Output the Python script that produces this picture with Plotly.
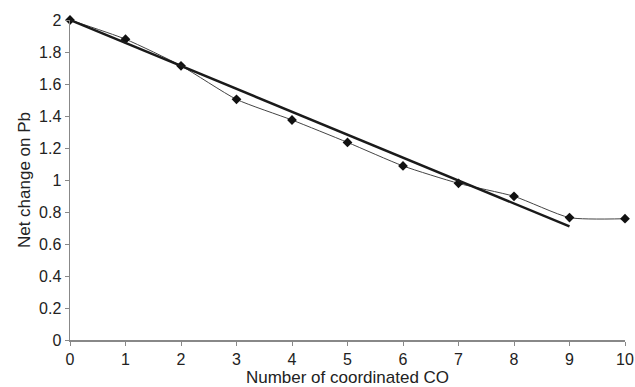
import plotly.graph_objects as go

x_vals = [0, 1, 2, 3, 4, 5, 6, 7, 8, 9, 10]
net_change = [2.0, 1.88, 1.714, 1.504, 1.375, 1.235, 1.088, 0.979, 0.898, 0.765, 0.758]
trend_x = [0, 9]
trend_y = [2.0, 0.71]

font_family = "Liberation Sans, Arial, sans-serif"

fig = go.Figure()
fig.add_trace(go.Scatter(
    x=x_vals, y=net_change, mode="lines+markers",
    line=dict(color="#444444", width=1, shape="spline", smoothing=0.6),
    marker=dict(symbol="diamond", size=7.5, color="#111111"),
    cliponaxis=False, showlegend=False,
))
fig.add_trace(go.Scatter(
    x=trend_x, y=trend_y, mode="lines",
    line=dict(color="#1a1a1a", width=2.5),
    cliponaxis=False, showlegend=False,
))

fig.update_layout(
    width=635, height=387,
    margin=dict(l=70, r=10, t=20, b=47, autoexpand=False),
    paper_bgcolor="white", plot_bgcolor="white",
    font=dict(family=font_family, size=16, color="#222222"),
    xaxis=dict(
        range=[0, 10], tickvals=list(range(0, 11)),
        showgrid=False, zeroline=False, automargin=False,
        showline=True, linecolor="#888888", linewidth=1.5,
        ticks="outside", ticklen=4, tickcolor="#888888",
        tickfont=dict(size=16),
        title=dict(text="Number of coordinated CO", standoff=2, font=dict(size=17)),
    ),
    yaxis=dict(
        range=[0, 2], tickvals=[0, 0.2, 0.4, 0.6, 0.8, 1, 1.2, 1.4, 1.6, 1.8, 2],
        ticktext=["0", "0.2", "0.4", "0.6", "0.8", "1", "1.2", "1.4", "1.6", "1.8", "2"],
        showgrid=False, zeroline=False, automargin=False,
        showline=True, linecolor="#888888", linewidth=1.5,
        ticks="outside", ticklen=4, tickcolor="#888888",
        tickfont=dict(size=16),
        title=dict(text="Net change on Pb", standoff=4, font=dict(size=17)),
    ),
)

fig.write_html(
    "out.html",
    config={"displayModeBar": False, "staticPlot": True},
    post_script="document.body.style.margin='0';document.body.style.overflow='hidden';",
)
